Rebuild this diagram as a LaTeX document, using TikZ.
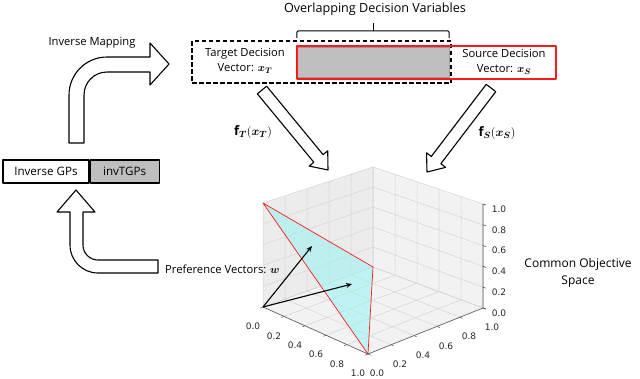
\documentclass[tikz,border=0pt]{standalone}
\usepackage{amsmath,bm}
\usepackage{fontspec}
\setmainfont{Open Sans}
\newfontfamily\plotfont{DejaVu Sans}
\usetikzlibrary{arrows.meta,calc}
\definecolor{pane}{HTML}{F2F2F2}
\definecolor{panedk}{HTML}{ECECEC}
\definecolor{gridc}{HTML}{D4D4D4}
\definecolor{boxgray}{HTML}{BFBFBF}
\definecolor{trifill}{HTML}{9EF2F2}
\definecolor{redline}{HTML}{FF1A1A}
\tikzset{fig/.style={line join=round,>=Stealth,x=1pt,y=-1pt},
  lbl/.style={font=\fontsize{11.2}{15}\selectfont,align=center,inner sep=0pt},
  blk/.style={draw=black,fill=white,line width=1.1pt},
  ticklab/.style={font=\plotfont\fontsize{9}{9}\selectfont,inner sep=0pt,text=black!85},
  grid3/.style={gridc,line width=0.5pt}}
\newcommand\fatarrow[2]{%
  \coordinate (hb) at ($(#2)!15pt!(#1)$);
  \draw[blk] ($(#1)!6pt!90:(#2)$) -- ($(hb)!6pt!90:(#2)$) -- ($(hb)!12pt!90:(#2)$) -- (#2)
    -- ($(hb)!12pt!-90:(#2)$) -- ($(hb)!6pt!-90:(#2)$) -- ($(#1)!6pt!-90:(#2)$) -- cycle;}

\begin{document}
\begin{tikzpicture}[fig]
  \useasboundingbox (0,0) rectangle (640,378);
  % decision vectors
  \node[fill=boxgray,draw=gray!80,minimum width=152,minimum height=30] (ovl) at (373,62) {};
  \node[draw,dash pattern=on 4.5pt off 2.5pt,line width=1.2pt,minimum width=259,minimum height=42] (tgt) at (321.5,62) {};
  \node[draw=redline,line width=1.3pt,minimum width=259,minimum height=33] (src) at (426.5,62.5) {};
  \node[lbl] (tgttxt) at (245,61) {Target Decision\\Vector: $\bm{x_T}$};
  \node[lbl] (srctxt) at (504,62) {Source Decision\\Vector: $\bm{x_S}$};
  \node[lbl,font=\fontsize{12.6}{15}\selectfont] (ovltxt) at (375,9) {Overlapping Decision Variables};
  \draw[line width=1pt,rounded corners=2pt] ($(ovl.north west)+(0,-9)$) |- ($(ovl.north)+(0,-16)$) -| ($(ovl.north east)+(0,-9)$);
  \draw[line width=1pt] ($(ovl.north)+(0,-16)$) -- ($(ovl.north)+(0,-24)$);
  % inverse models
  \node[draw,line width=1.1pt,minimum width=86,minimum height=23,inner sep=0pt,font=\fontsize{11.6}{14}\selectfont] (igp) at (46,171.5) {Inverse GPs};
  \node[draw,fill=boxgray,line width=1.1pt,minimum width=69,minimum height=23,inner sep=0pt,anchor=west,font=\fontsize{11.6}{14}\selectfont] (itgp) at (igp.east) {invTGPs};
  \draw[blk] (69,143) -- (69,95) .. controls (69,74) and (86,57) .. (107,57) -- (150,57) -- (150,43) -- (169,64)
    -- (150,85) -- (150,72) -- (107,72) .. controls (94.3,72) and (84,82.3) .. (84,95) -- (84,143) -- cycle;
  \draw[blk] (76,190) -- (95,212) -- (83,212) -- (83,245) .. controls (83,253.3) and (89.7,260) .. (98,260) -- (158,260)
    -- (158,273) -- (98,273) .. controls (82.5,273) and (70,260.5) .. (70,245) -- (70,212) -- (57,212) -- cycle;
  \node[lbl] (imap) at (92,43) {Inverse Mapping};
  % mappings
  \coordinate (ftA) at (262,90); \coordinate (ftB) at (328,170);
  \coordinate (fsA) at (491,88); \coordinate (fsB) at (427,172);
  \fatarrow{ftA}{ftB}
  \fatarrow{fsA}{fsB}
  \node[font=\fontsize{13}{15}\selectfont] (ftl) at (253,132) {$\mathbf{f}_{\bm{T}}(\bm{x}_{\bm{T}})$};
  \node[font=\fontsize{13}{15}\selectfont] (fsl) at (497,133) {$\mathbf{f}_{\bm{S}}(\bm{x}_{\bm{S}})$};
  % objective space
  \coordinate (L) at (263,307); \coordinate (Lt) at (263,203);
  \coordinate (F) at (368,354);
  \coordinate (R) at (483,308); \coordinate (Rt) at (483,204);
  \coordinate (B) at (373,267); \coordinate (Bt) at (373,167);
  \fill[pane] (L) -- (F) -- (R) -- (B) -- cycle;
  \fill[panedk] (L) -- (B) -- (Bt) -- (Lt) -- cycle;
  \fill[pane] (B) -- (R) -- (Rt) -- (Bt) -- cycle;
  \foreach \t in {0,0.2,0.4,0.6,0.8,1}{
    \draw[grid3] ($(L)!\t!(B)$) -- ($(Lt)!\t!(Bt)$) ($(L)!\t!(Lt)$) -- ($(B)!\t!(Bt)$);
    \draw[grid3] ($(B)!\t!(R)$) -- ($(Bt)!\t!(Rt)$) ($(B)!\t!(Bt)$) -- ($(R)!\t!(Rt)$);
    \draw[grid3] ($(L)!\t!(F)$) -- ($(B)!\t!(R)$) ($(L)!\t!(B)$) -- ($(F)!\t!(R)$);
  }
  \filldraw[fill=trifill,fill opacity=0.6,draw=redline,line width=0.7pt] (Lt) -- (F) -- (B) -- cycle;
  \draw[black!65,line width=0.6pt] (L) -- (F) -- (R) -- (Rt);
  \foreach \t/\v in {0/0.0,0.2/0.2,0.4/0.4,0.6/0.6,0.8/0.8,1/1.0}{
    \draw[black!65,line width=0.5pt] ($(L)!\t!(F)$) -- ++(-2.8,1.1);
    \draw[black!65,line width=0.5pt] ($(F)!\t!(R)$) -- ++(2.7,1.2);
    \draw[black!80,line width=0.5pt] ($(R)!\t!(Rt)$) -- ++(3,1);
    \node[ticklab] at ($(L)!\t!(F)+(-10,19.5)$) {\v};
    \node[ticklab] at ($(F)!\t!(R)+(9,19.5)$) {\v};
    \node[ticklab] at ($(R)!\t!(Rt)+(16,5)$) {\v};
  }
  \coordinate (w1) at (312,246); \coordinate (w2) at (352,284);
  \draw[-{Stealth[length=6pt,width=5pt]},line width=1.1pt] (L) -- (w1);
  \draw[-{Stealth[length=6pt,width=5pt]},line width=1.1pt] (L) -- (w2);
  \node[lbl,anchor=west] (pref) at (165,269) {Preference Vectors: $\bm{w}$};
  \node[lbl,font=\fontsize{12}{17.5}\selectfont] (cos) at (578,273) {Common Objective\\Space};
\end{tikzpicture}
\end{document}
